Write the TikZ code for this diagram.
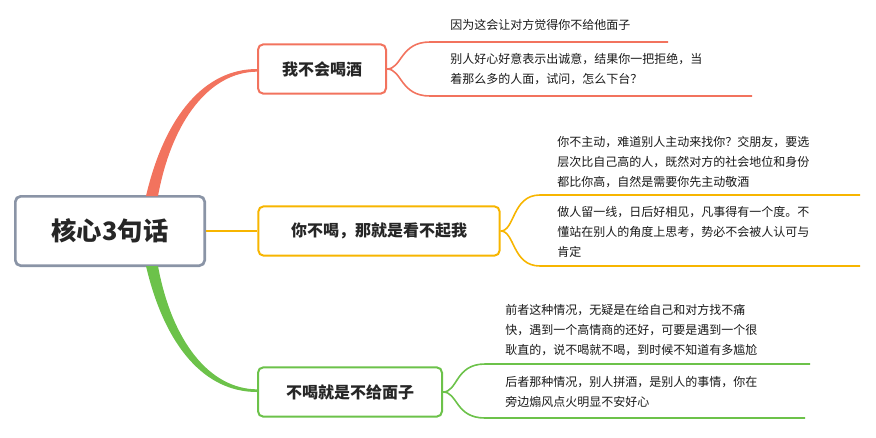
\documentclass[tikz,border=0pt]{standalone}
\usepackage{fontspec}
\setmainfont{Noto Sans CJK SC}
\usetikzlibrary{positioning}
\definecolor{cred}{HTML}{F2735E}
\definecolor{corange}{HTML}{F7B500}
\definecolor{cgreen}{HTML}{6CC24A}
\definecolor{cgray}{HTML}{8A94A6}
\tikzset{>=latex}

\begin{document}
\begin{tikzpicture}[x=0.75pt,y=-0.75pt]
	\tikzstyle{rootbox} = [draw=cgray, line width=2pt, rounded corners=4pt, minimum width=142pt, minimum height=52pt, font=\bfseries\fontsize{19}{22}\selectfont, text=black!85]
	\tikzstyle{branch} = [line width=1.5pt, rounded corners=4pt, minimum height=37pt, font=\bfseries\fontsize{12}{14}\selectfont, text=black!85, inner xsep=10pt]
	\tikzstyle{leaf} = [anchor=north west, align=left, inner sep=0pt, font=\fontsize{9}{15}\selectfont, text=black!90]
	\tikzstyle{twig} = [line width=1.2pt]

	\useasboundingbox (0,0) rectangle (876,437);

%----------中心------------------------------
	\node[rootbox] (root) at (110,231) {核心3句话};

%----------分支------------------------------
	\node[branch, draw=cred, minimum width=96pt] (b1) at (322,69) {我不会喝酒};
	\node[branch, draw=corange, minimum width=181pt] (b2) at (379,231) {你不喝，那就是看不起我};
	\node[branch, draw=cgreen, minimum width=138pt] (b3) at (350,392) {不喝就是不给面子};

	\fill[cred] (146,196) .. controls (165,115) and (205,69) .. (b1.west) -- ([yshift=-2pt]b1.west) .. controls (210,72) and (172,120) .. (158,196) -- cycle;
	\draw[corange, line width=2.2pt] (root.east) -- (b2.west);
	\fill[cgreen] (146,266) .. controls (165,347) and (205,392) .. (b3.west) -- ([yshift=2pt]b3.west) .. controls (210,389) and (172,342) .. (158,266) -- cycle;

%----------叶子------------------------------
	\node[leaf] (l11) at (450,19) {因为这会让对方觉得你不给他面子};
	\node[leaf] (l12) at (450,53) {别人好心好意表示出诚意，结果你一把拒绝，当\\着那么多的人面，试问，怎么下台？};
	\node[leaf] (l21) at (557,136) {你不主动，难道别人主动来找你？交朋友，要选\\层次比自己高的人，既然对方的社会地位和身份\\都比你高，自然是需要你先主动敬酒};
	\node[leaf] (l22) at (557,206) {做人留一线，日后好相见，凡事得有一个度。不\\懂站在别人的角度上思考，势必不会被人认可与\\肯定};
	\node[leaf] (l31) at (505,304) {前者这种情况，无疑是在给自己和对方找不痛\\快，遇到一个高情商的还好，可要是遇到一个很\\耿直的，说不喝就不喝，到时候不知道有多尴尬};
	\node[leaf] (l32) at (505,376) {后者那种情况，别人拼酒，是别人的事情，你在\\旁边煽风点火明显不安好心};

	\coordinate (e11) at (668,42);
	\coordinate (e12) at (752,96);
	\coordinate (e21) at (860,195);
	\coordinate (e22) at (860,266);
	\coordinate (e31) at (810,364);
	\coordinate (e32) at (805,418);

	\draw[twig, cred] (b1.east) .. controls (402,69) and (400,42) .. (430,42) -- (e11);
	\draw[twig, cred] (b1.east) .. controls (402,69) and (400,96) .. (430,96) -- (e12);
	\draw[twig, corange] (b2.east) .. controls (515,231) and (512,195) .. (540,195) -- (e21);
	\draw[twig, corange] (b2.east) .. controls (515,231) and (512,266) .. (540,266) -- (e22);
	\draw[twig, cgreen] (b3.east) .. controls (458,392) and (455,364) .. (485,364) -- (e31);
	\draw[twig, cgreen] (b3.east) .. controls (458,392) and (455,418) .. (485,418) -- (e32);
\end{tikzpicture}
\end{document}
